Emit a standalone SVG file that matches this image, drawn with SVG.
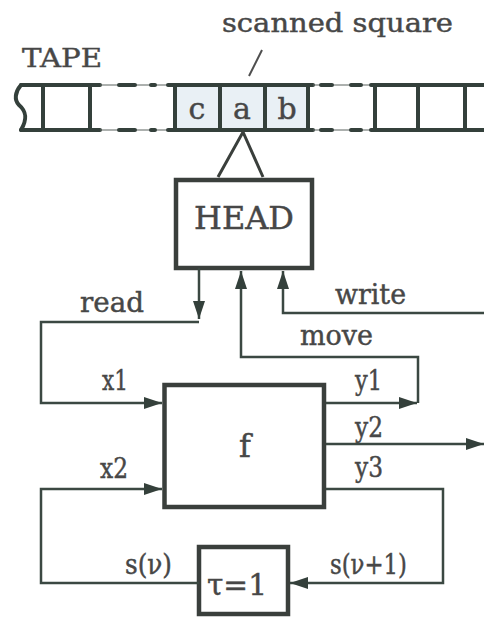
<svg xmlns="http://www.w3.org/2000/svg" width="484" height="617" viewBox="0 0 484 617">
<defs>
<style>
.t{font-family:"DejaVu Serif","Liberation Serif",serif;fill:#474747;stroke:#474747;stroke-width:0.45}
.lbl{font-size:27px}
.tape{fill:none;stroke:#34403b;stroke-width:4;stroke-linecap:round}
.thin{fill:none;stroke:#5a625e;stroke-width:1}
.dash{fill:none;stroke:#34403b;stroke-width:4;stroke-linecap:round}
.box{fill:#ffffff;stroke:#3a3f3c;stroke-width:4.5}
.con{fill:none;stroke:#3b4842;stroke-width:2.5}
.cell{fill:#e9f0f5;stroke:none}
</style>
<marker id="ah" markerUnits="userSpaceOnUse" markerWidth="20" markerHeight="14" refX="18" refY="6" orient="auto">
<path d="M0,0 L18,6 L0,12 z" fill="#34403b"/>
</marker>
</defs>
<rect width="484" height="617" fill="#ffffff"/>

<g id="tape">
<text class="t" x="22" y="67" font-size="26" textLength="80" lengthAdjust="spacingAndGlyphs">TAPE</text>
<text class="t" x="222" y="32" font-size="26" textLength="231" lengthAdjust="spacingAndGlyphs">scanned square</text>
<line x1="262" y1="50" x2="249" y2="76" stroke="#4e4e4e" stroke-width="2"/>
<rect class="cell" x="176" y="87" width="131" height="41"/>
<path class="tape" d="M21,85 C15,92 14,100 19,105 C26,111 28,118 21,130"/>
<path class="tape" d="M21,85 H100 M21,130 H100 M43,85 V130 M90,85 V130"/>
<path class="thin" d="M100,85 H168 M100,130 H168"/>
<path class="dash" d="M119,85 H135 M151,85 H155 M119,130 H135 M151,130 H155"/>
<path class="tape" d="M168,85 H313 M168,130 H313 M175,85 V130 M220,85 V130 M265,85 V130 M308,85 V130"/>
<path class="thin" d="M313,85 H372 M313,130 H372"/>
<path class="dash" d="M321,85 H332 M351,85 H361 M321,130 H332 M351,130 H361"/>
<path class="tape" d="M371,85 H486 M371,130 H486 M375,85 V130 M418,85 V130 M465,85 V130"/>
<text class="t" x="197" y="119" font-size="30" text-anchor="middle">c</text>
<text class="t" x="242" y="119" font-size="30" text-anchor="middle">a</text>
<text class="t" x="287" y="119" font-size="30" text-anchor="middle">b</text>
<path d="M218,177 L243,132 L263,177" fill="none" stroke="#3a3f3c" stroke-width="3"/>
</g>

<g id="head">
<rect class="box" x="176" y="180" width="136" height="88"/>
<text class="t" x="244" y="229" font-size="32" text-anchor="middle">HEAD</text>
</g>

<g id="f">
<rect class="box" x="164.5" y="385" width="159.5" height="122"/>
<text class="t" x="245" y="457" font-size="32" text-anchor="middle">f</text>
</g>

<g id="delay">
<rect class="box" x="199" y="547" width="89" height="67" stroke-width="5"/>
<text class="t" x="237" y="595" font-size="30" text-anchor="middle" textLength="60" lengthAdjust="spacingAndGlyphs">τ=1</text>
</g>

<g id="connectors">
<path class="con" d="M199,268 V319" marker-end="url(#ah)"/>
<path class="con" d="M199,322 H41 V403 H162" marker-end="url(#ah)"/>
<path class="con" d="M418,403 V357 H241 V271" marker-end="url(#ah)"/>
<path class="con" d="M326,403 H417" marker-end="url(#ah)"/>
<path class="con" d="M484,313 H283 V271" marker-end="url(#ah)"/>
<path class="con" d="M326,444 H484" marker-end="url(#ah)"/>
<path class="con" d="M199,583 H41 V489 H162" marker-end="url(#ah)"/>
<path class="con" d="M326,489 H443 V583 H290" marker-end="url(#ah)"/>
</g>

<g id="labels">
<text class="t lbl" x="80" y="312" textLength="64" lengthAdjust="spacingAndGlyphs">read</text>
<text class="t lbl" x="335" y="304" textLength="71" lengthAdjust="spacingAndGlyphs">write</text>
<text class="t lbl" x="300" y="345" textLength="73" lengthAdjust="spacingAndGlyphs">move</text>
<text class="t lbl" x="102" y="390" textLength="26" lengthAdjust="spacingAndGlyphs">x1</text>
<text class="t lbl" x="355" y="390" textLength="27" lengthAdjust="spacingAndGlyphs">y1</text>
<text class="t lbl" x="355" y="437" textLength="28" lengthAdjust="spacingAndGlyphs">y2</text>
<text class="t lbl" x="100" y="478" textLength="28" lengthAdjust="spacingAndGlyphs">x2</text>
<text class="t lbl" x="355" y="477" textLength="28" lengthAdjust="spacingAndGlyphs">y3</text>
<text class="t lbl" x="125" y="574" textLength="47" lengthAdjust="spacingAndGlyphs">s(ν)</text>
<text class="t lbl" x="330" y="574" textLength="77" lengthAdjust="spacingAndGlyphs">s(ν+1)</text>
</g>
</svg>
